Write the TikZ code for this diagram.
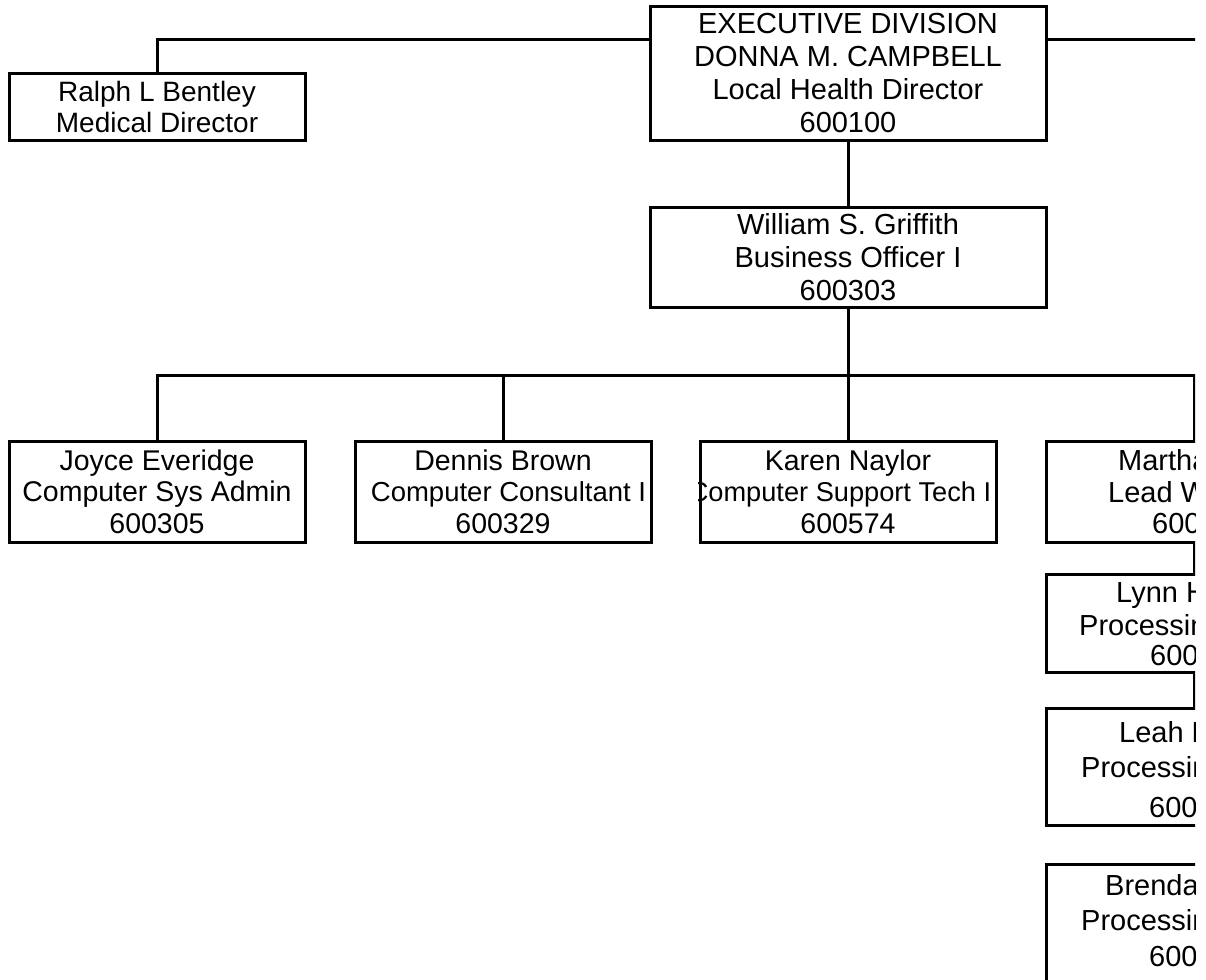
\documentclass[tikz,border=0pt]{standalone}
\usepackage{fontspec}
\setmainfont{Liberation Sans}
\begin{document}
\begin{tikzpicture}[x=1pt,y=-1pt,
  box/.style={draw,line width=3pt,rectangle,inner sep=0pt,align=center,font=\fontsize{29}{33}\selectfont},
  rowbox/.style={box,minimum width=296pt,minimum height=101pt,font=\fontsize{28.5}{31.5}\selectfont},
  colbox/.style={draw,line width=3pt,rectangle,inner sep=0pt,minimum width=296pt},
  txt/.style={inner sep=0pt,align=center,font=\fontsize{28.5}{31.5}\selectfont},
  cliptxt/.style={inner sep=0pt,anchor=base west,font=\fontsize{29}{31.5}\selectfont},
  conn/.style={line width=3pt,line join=miter}]
\useasboundingbox (0,0) rectangle (1206,979);
\begin{scope}
\clip (0,0) rectangle (1195,979);
% coordinates for buses
\coordinate (topbus) at (0,40);
\coordinate (topright) at (1196,40);
\coordinate (bus) at (0,375);
% top level
\node[box,minimum width=396pt,minimum height=133pt] (exec) at (848,73.5)
  {EXECUTIVE DIVISION\\DONNA M. CAMPBELL\\Local Health Director\\600100};
\node[box,minimum width=296pt,minimum height=66pt,font=\fontsize{28}{31.5}\selectfont] (ralph) at (157,107)
  {Ralph L Bentley\\Medical Director};
\node[box,minimum width=396pt,minimum height=100pt] (griffith) at (848,257)
  {William S. Griffith\\Business Officer I\\600303};
% row
\node[rowbox] (joyce) at (157,491.5) {Joyce Everidge\\Computer Sys Admin\\600305};
\node[rowbox] (dennis) at (503,491.5)
  {Dennis Brown\\\hspace*{11pt}{\fontsize{27.5}{31.5}\selectfont Computer Consultant I}\\600329};
\node[rowbox] (karen) at (848,491.5) {};
\begin{scope}
\clip (karen.south west) rectangle (karen.north east);
\node[txt] (karentext) at (karen.center)
  {Karen Naylor\\{\fontsize{27.2}{31.5}\selectfont Computer Support Tech I}\hspace*{16pt}\null\\600574};
\end{scope}
% right column (cut off at the page edge)
\node[colbox,minimum height=101pt] (martha) at (1194,491.5) {};
\node[colbox,minimum height=98pt] (lynn) at (1194,623) {};
\node[colbox,minimum height=117pt] (leah) at (1194,766.5) {};
\node[colbox,minimum height=122pt] (brenda) at (1194,925) {};
\node[cliptxt] (m1) at (1118,470.5) {Martha};
\node[cliptxt] (m2) at (1108,502) {Lead W};
\node[cliptxt] (m3) at (1152,533.5) {6003};
\node[cliptxt] (l1) at (1116,602.5) {Lynn H};
\node[cliptxt] (l2) at (1079,635.5) {Processing};
\node[cliptxt] (l3) at (1150,665.5) {6003};
\node[cliptxt] (e1) at (1119,742.5) {Leah E};
\node[cliptxt] (e2) at (1081,777.5) {Processing};
\node[cliptxt] (e3) at (1149,817.5) {6003};
\node[cliptxt] (b1) at (1105,895.5) {Brenda};
\node[cliptxt] (b2) at (1081,930.5) {Processing};
\node[cliptxt] (b3) at (1149,966.5) {6003};
% connectors
\draw[conn] (ralph.north) |- (exec.west |- topbus);
\draw[conn] (exec.east |- topbus) -- (topright);
\draw[conn] (exec.south) -- (griffith.north);
\draw[conn] (griffith.south) -- (griffith.south |- bus);
\draw[conn] (joyce.north) |- (martha.north |- bus) -- (martha.north);
\draw[conn] (dennis.north) -- (dennis.north |- bus);
\draw[conn] (karen.north) -- (karen.north |- bus);
\draw[conn] (martha.south) -- (lynn.north);
\draw[conn] (lynn.south) -- (leah.north);
\end{scope}
\end{tikzpicture}
\end{document}
